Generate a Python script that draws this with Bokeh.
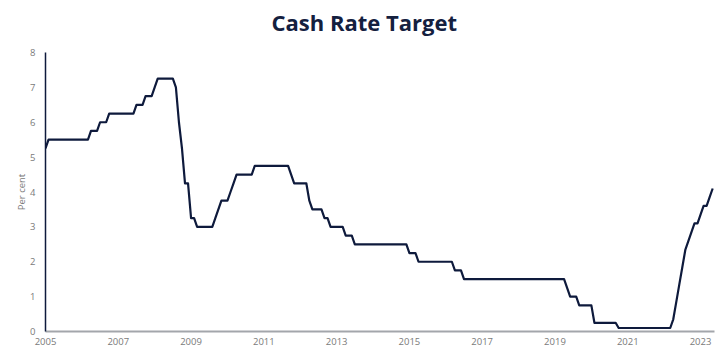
from bokeh.plotting import figure
from bokeh.models import Range1d, FixedTicker, ColumnDataSource, Title
from bokeh.embed import file_html
from bokeh.resources import INLINE

# Monthly cash rate target (per cent), Feb 2005 .. Jun 2023
r2005 = [5.25, 5.5, 5.5, 5.5, 5.5, 5.5, 5.5, 5.5, 5.5, 5.5, 5.5]  # Feb-Dec
r2006 = [5.5, 5.5, 5.5, 5.5, 5.75, 5.75, 5.75, 6.0, 6.0, 6.0, 6.25, 6.25]
r2007 = [6.25, 6.25, 6.25, 6.25, 6.25, 6.25, 6.25, 6.5, 6.5, 6.5, 6.75, 6.75]
r2008 = [6.75, 7.0, 7.25, 7.25, 7.25, 7.25, 7.25, 7.25, 7.0, 6.0, 5.25, 4.25]
r2009 = [4.25, 3.25, 3.25, 3.0, 3.0, 3.0, 3.0, 3.0, 3.0, 3.25, 3.5, 3.75]
r2010 = [3.75, 3.75, 4.0, 4.25, 4.5, 4.5, 4.5, 4.5, 4.5, 4.5, 4.75, 4.75]
r2011 = [4.75, 4.75, 4.75, 4.75, 4.75, 4.75, 4.75, 4.75, 4.75, 4.75, 4.5, 4.25]
r2012 = [4.25, 4.25, 4.25, 4.25, 3.75, 3.5, 3.5, 3.5, 3.5, 3.25, 3.25, 3.0]
r2013 = [3.0, 3.0, 3.0, 3.0, 2.75, 2.75, 2.75, 2.5, 2.5, 2.5, 2.5, 2.5]
r2014 = [2.5, 2.5, 2.5, 2.5, 2.5, 2.5, 2.5, 2.5, 2.5, 2.5, 2.5, 2.5]
r2015 = [2.5, 2.25, 2.25, 2.25, 2.0, 2.0, 2.0, 2.0, 2.0, 2.0, 2.0, 2.0]
r2016 = [2.0, 2.0, 2.0, 2.0, 1.75, 1.75, 1.75, 1.5, 1.5, 1.5, 1.5, 1.5]
r2017 = [1.5, 1.5, 1.5, 1.5, 1.5, 1.5, 1.5, 1.5, 1.5, 1.5, 1.5, 1.5]
r2018 = [1.5, 1.5, 1.5, 1.5, 1.5, 1.5, 1.5, 1.5, 1.5, 1.5, 1.5, 1.5]
r2019 = [1.5, 1.5, 1.5, 1.5, 1.5, 1.25, 1.0, 1.0, 1.0, 0.75, 0.75, 0.75]
r2020 = [0.75, 0.75, 0.25, 0.25, 0.25, 0.25, 0.25, 0.25, 0.25, 0.25, 0.1, 0.1]
r2021 = [0.1, 0.1, 0.1, 0.1, 0.1, 0.1, 0.1, 0.1, 0.1, 0.1, 0.1, 0.1]
r2022 = [0.1, 0.1, 0.1, 0.1, 0.35, 0.85, 1.35, 1.85, 2.35, 2.6, 2.85, 3.1]
r2023 = [3.1, 3.35, 3.6, 3.6, 3.85, 4.1]  # Jan-Jun

tick_labels = ["2005", "2007", "2009", "2011", "2013", "2015", "2017", "2019", "2021", "2023"]

rates = (r2005 + r2006 + r2007 + r2008 + r2009 + r2010 + r2011 + r2012 + r2013
         + r2014 + r2015 + r2016 + r2017 + r2018 + r2019 + r2020 + r2021 + r2022 + r2023)
months = list(range(len(rates)))
source = ColumnDataSource(data=dict(month=months, rate=rates))

tick_pos = [i * 24 for i in range(len(tick_labels))]

NAVY = "#0e1a3c"
GREY_TXT = "#7a7a7a"
FONT = "Open Sans"

p = figure(width=727, height=357, output_backend="svg", toolbar_location=None,
           title=None,
           x_range=Range1d(0, 220.6), y_range=Range1d(0, 8),
           min_border_left=45, min_border_right=13, min_border_top=52, min_border_bottom=26)

p.line("month", "rate", source=source, line_color=NAVY, line_width=2.2, line_join="round")

# spacer between title and frame, then the main title further out
p.add_layout(Title(text=" ", text_font_size="2px", standoff=8), "above")
p.add_layout(Title(text="Cash Rate Target", align="left", offset=226, standoff=7,
                   text_font=FONT, text_font_style="bold", text_font_size="22px",
                   text_color="#14203f"), "above")

p.xgrid.visible = False
p.ygrid.visible = False
p.outline_line_color = None
p.background_fill_color = "white"
p.border_fill_color = "white"

xa = p.xaxis[0]
xa.ticker = FixedTicker(ticks=tick_pos)
xa.major_label_overrides = {pos: lab for pos, lab in zip(tick_pos, tick_labels)}
xa.axis_line_color = "#a3a6ab"
xa.axis_line_width = 2
xa.major_tick_line_color = None
xa.minor_tick_line_color = None
xa.major_tick_out = 0
xa.major_tick_in = 0
xa.minor_tick_out = 0
xa.major_label_text_font = FONT
xa.major_label_text_font_size = "9.5px"
xa.major_label_text_color = GREY_TXT
xa.major_label_standoff = 6

ya = p.yaxis[0]
ya.ticker = FixedTicker(ticks=[0, 1, 2, 3, 4, 5, 6, 7, 8])
ya.axis_line_color = NAVY
ya.axis_line_width = 1.5
ya.major_tick_line_color = None
ya.minor_tick_line_color = None
ya.major_tick_out = 0
ya.major_tick_in = 0
ya.minor_tick_out = 0
ya.major_label_text_font = FONT
ya.major_label_text_font_size = "9.5px"
ya.major_label_text_color = GREY_TXT
ya.major_label_standoff = 10
ya.axis_label = "Per cent"
ya.axis_label_text_font = FONT
ya.axis_label_text_font_size = "9.5px"
ya.axis_label_text_font_style = "normal"
ya.axis_label_text_color = GREY_TXT
ya.axis_label_standoff = -1

open("out.html", "w").write(file_html(p, INLINE))
